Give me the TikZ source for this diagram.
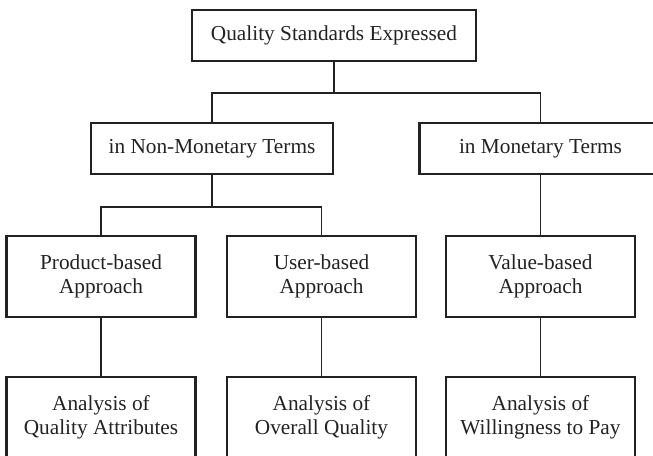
\documentclass[tikz,border=0pt]{standalone}
\usepackage{fontspec}
\setmainfont{Liberation Serif}
\definecolor{ink}{HTML}{222222}
\begin{document}
\begin{tikzpicture}[x=1pt,y=-1pt,
  box/.style={draw=ink, line width=2.6pt, inner sep=0pt, align=center,
    text=ink, font=\fontsize{21.3}{23.5}\selectfont},
  wide/.style={box, minimum width=242pt, minimum height=51pt},
  tall/.style={box, minimum width=189pt, minimum height=81pt},
  link/.style={draw=ink, line width=1.8pt}]
\useasboundingbox (0,0) rectangle (653,455);
\clip (0,0) rectangle (653,455);

% root
\node[box, minimum width=284pt, minimum height=51pt] (root) at (334,35.5) {Quality Standards Expressed};

% second level
\node[wide] (nonmon) at (212,148.5) {in Non-Monetary Terms};
\node[wide] (mon)    at (540.5,148.5) {in Monetary Terms};

% approaches
\node[tall] (prod)  at (101,276.5)   {Product-based\\Approach};
\node[tall] (user)  at (321.5,276.5) {User-based\\Approach};
\node[tall] (value) at (540.5,276.5) {Value-based\\Approach};

% analyses
\node[tall] (aprod)  at (101,417.5)   {Analysis of\\Quality Attributes};
\node[tall] (auser)  at (321.5,417.5) {Analysis of\\Overall Quality};
\node[tall] (avalue) at (540.5,417.5) {Analysis of\\Willingness to Pay};

% connectors
\draw[link] (root.south) -- ++(0,31) coordinate (j1);
\draw[link] (nonmon.north) |- (j1) -| (mon.north);
\draw[link] (nonmon.south) -- ++(0,32) coordinate (j2);
\draw[link] (prod.north) |- (j2) -| (user.north);
\draw[link] (mon.south) -- (value.north);
\draw[link] (prod.south) -- (aprod.north);
\draw[link] (user.south) -- (auser.north);
\draw[link] (value.south) -- (avalue.north);
\end{tikzpicture}
\end{document}
